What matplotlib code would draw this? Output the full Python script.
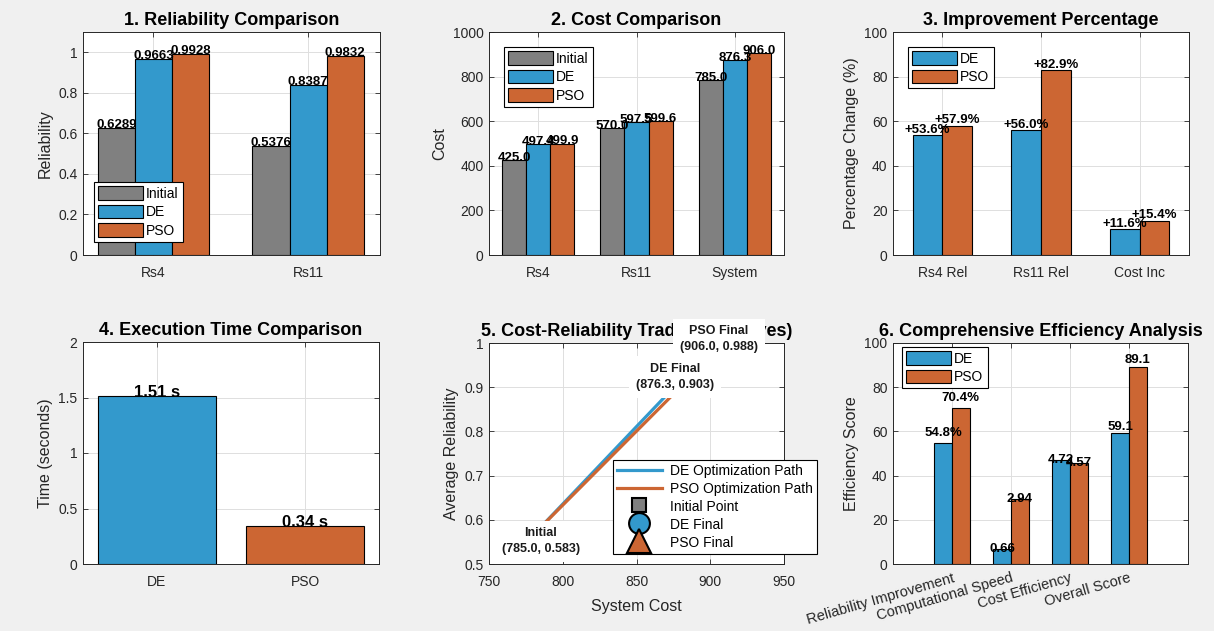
import matplotlib
matplotlib.use('Agg')
import matplotlib.pyplot as plt
import numpy as np
from matplotlib.ticker import FuncFormatter

# ---------------- data ----------------
rel_categories = ['Rs4', 'Rs11']
rel_initial = [0.6289, 0.5376]
rel_de = [0.9663, 0.8387]
rel_pso = [0.9928, 0.9832]

cost_categories = ['Rs4', 'Rs11', 'System']
cost_initial = [425.0, 570.0, 785.0]
cost_de = [497.4, 597.5, 876.3]
cost_pso = [499.9, 599.6, 906.0]

impr_categories = ['Rs4 Rel', 'Rs11 Rel', 'Cost Inc']
impr_de = [53.6, 56.0, 11.6]
impr_pso = [57.9, 82.9, 15.4]

time_categories = ['DE', 'PSO']
time_values = [1.51, 0.34]

trade_names = ['Initial', 'DE Final', 'PSO Final']
trade_cost = [785.0, 876.3, 906.0]
trade_rel = [0.583, 0.903, 0.988]

eff_categories = ['Reliability Improvement', 'Computational Speed',
                  'Cost Efficiency', 'Overall Score']
eff_de = [54.8, 6.6, 47.2, 59.1]
eff_pso = [70.4, 29.4, 45.7, 89.1]
eff_de_labels = ['54.8%', '0.66', '4.72', '59.1']
eff_pso_labels = ['70.4%', '2.94', '4.57', '89.1']

# ---------------- style ----------------
GRAY = '#808080'
BLUE = '#3399cc'
ORANGE = '#cc6633'
TXT = '#262626'
plt.rcParams['font.family'] = ['Liberation Sans', 'DejaVu Sans']

W, H = 1214, 631
fig = plt.figure(figsize=(W / 100, H / 100), dpi=100, facecolor='#f0f0f0')


def rect(x0, y0, x1, y1):
    return [x0 / W, 1 - y1 / H, (x1 - x0) / W, (y1 - y0) / H]


def style(ax, title, ylabel):
    ax.set_facecolor('white')
    ax.grid(True, color='#dedede', lw=0.7)
    ax.set_axisbelow(True)
    for s in ax.spines.values():
        s.set_color(TXT)
        s.set_linewidth(0.7)
    ax.tick_params(direction='in', top=True, right=True, length=3.5, width=0.6,
                   colors=TXT, labelsize=10, pad=4)
    ax.tick_params(axis='x', pad=8)
    ax.yaxis.set_major_formatter(FuncFormatter(lambda v, p: f'{v:g}'))
    ax.set_title(title, fontsize=13, fontweight='bold', color='black', pad=5)
    ax.set_ylabel(ylabel, fontsize=11.5, color=TXT)


def legend(ax, handles, labels, x, y, **kw):
    opts = dict(loc='upper left', bbox_to_anchor=(x / W, 1 - y / H),
                bbox_transform=fig.transFigure, borderaxespad=0, frameon=True,
                fancybox=False, framealpha=1, edgecolor='black', fontsize=10,
                handlelength=3.2, handleheight=1.1, labelspacing=0.3,
                handletextpad=0.25, borderpad=0.3)
    opts.update(kw)
    leg = ax.legend(handles, labels, **opts)
    leg.get_frame().set_linewidth(0.8)
    return leg


def label_bars(ax, xs, vals, texts, dy=2.0, fs=9.5, data_dy=None):
    for i, (x, v, t) in enumerate(zip(xs, vals, texts)):
        yy = v + (data_dy[i] if data_dy is not None else 0)
        ax.annotate(t, (x, yy), xytext=(0, dy), textcoords='offset points',
                    ha='center', va='center', fontsize=fs, fontweight='bold',
                    color='black')


bar_kw = dict(edgecolor='black', linewidth=0.8)

# ---------- 1. Reliability ----------
ax1 = fig.add_axes(rect(83, 32, 380, 255))
x = np.arange(1, len(rel_categories) + 1)
w = 0.24
b1 = ax1.bar(x - w, rel_initial, w, color=GRAY, **bar_kw)
b2 = ax1.bar(x, rel_de, w, color=BLUE, **bar_kw)
b3 = ax1.bar(x + w, rel_pso, w, color=ORANGE, **bar_kw)
for off, vals in zip([-w, 0, w], [rel_initial, rel_de, rel_pso]):
    label_bars(ax1, x + off, vals, [f'{v:.4f}' for v in vals], dy=2)
ax1.set_xlim(0.545, 2.465)
ax1.set_ylim(0, 1.1)
ax1.set_yticks(np.arange(0, 1.01, 0.2))
ax1.set_xticks(x)
ax1.set_xticklabels(rel_categories)
style(ax1, '1. Reliability Comparison', 'Reliability')
legend(ax1, [b1, b2, b3], ['Initial', 'DE', 'PSO'], 94, 182)

# ---------- 2. Cost ----------
ax2 = fig.add_axes(rect(489, 32, 784, 255))
x = np.arange(1, len(cost_categories) + 1)
w = 0.245
c1 = ax2.bar(x - w, cost_initial, w, color=GRAY, **bar_kw)
c2 = ax2.bar(x, cost_de, w, color=BLUE, **bar_kw)
c3 = ax2.bar(x + w, cost_pso, w, color=ORANGE, **bar_kw)
for off, vals in zip([-w, 0, w], [cost_initial, cost_de, cost_pso]):
    label_bars(ax2, x + off, vals, [f'{v:.1f}' for v in vals], dy=1.5)
ax2.set_xlim(0.5, 3.5)
ax2.set_ylim(0, 1000)
ax2.set_yticks(np.arange(0, 1001, 200))
ax2.set_xticks(x)
ax2.set_xticklabels(cost_categories)
style(ax2, '2. Cost Comparison', 'Cost')
legend(ax2, [c1, c2, c3], ['Initial', 'DE', 'PSO'], 504, 47)

# ---------- 3. Improvement ----------
ax3 = fig.add_axes(rect(893, 32, 1189, 255))
x = np.arange(1, len(impr_categories) + 1)
w = 0.3
d1 = ax3.bar(x - w / 2, impr_de, w, color=BLUE, **bar_kw)
d2 = ax3.bar(x + w / 2, impr_pso, w, color=ORANGE, **bar_kw)
label_bars(ax3, x - w / 2, impr_de, [f'+{v:.1f}%' for v in impr_de], dy=4)
label_bars(ax3, x + w / 2, impr_pso, [f'+{v:.1f}%' for v in impr_pso], dy=4)
ax3.set_xlim(0.5, 3.5)
ax3.set_ylim(0, 100)
ax3.set_yticks(np.arange(0, 101, 20))
ax3.set_xticks(x)
ax3.set_xticklabels(impr_categories)
style(ax3, '3. Improvement Percentage', 'Percentage Change (%)')
legend(ax3, [d1, d2], ['DE', 'PSO'], 908, 47)

# ---------- 4. Execution time ----------
ax4 = fig.add_axes(rect(83, 342, 379, 564))
x = np.arange(1, len(time_categories) + 1)
ax4.bar(x, time_values, 0.8, color=[BLUE, ORANGE], **bar_kw)
label_bars(ax4, x, time_values, [f'{v:.2f} s' for v in time_values], dy=3.0, fs=12)
ax4.set_xlim(0.5, 2.5)
ax4.set_ylim(0, 2)
ax4.set_yticks(np.arange(0, 2.01, 0.5))
ax4.set_xticks(x)
ax4.set_xticklabels(time_categories)
style(ax4, '4. Execution Time Comparison', 'Time (seconds)')

# ---------- 5. Trade-off ----------
ax5 = fig.add_axes(rect(489, 343, 784, 564))
l1, = ax5.plot([trade_cost[0], trade_cost[1]], [trade_rel[0], trade_rel[1]],
               color=BLUE, lw=2.3, zorder=2)
l2, = ax5.plot([trade_cost[0], trade_cost[2]], [trade_rel[0], trade_rel[2]],
               color=ORANGE, lw=2.3, zorder=2)
m1, = ax5.plot([trade_cost[0]], [trade_rel[0]], 's', ms=6, mfc=GRAY, mec='black',
               mew=1.5, zorder=2.5)
m2, = ax5.plot([trade_cost[1]], [trade_rel[1]], 'o', ms=7, mfc=BLUE, mec='black',
               mew=1.5, zorder=2.5)
m3, = ax5.plot([trade_cost[2]], [trade_rel[2]], '^', ms=7, mfc=ORANGE, mec='black',
               mew=1.5, zorder=2.5)
label_offsets = [-0.032, 0.02, 0.02]
for name, c, r, off in zip(trade_names, trade_cost, trade_rel, label_offsets):
    ax5.text(c, r + off, f'{name}\n({c:.1f}, {r:.3f})', ha='center', va='center',
             fontsize=9, fontweight='bold', color='#1a1a1a', linespacing=1.45,
             bbox=dict(boxstyle='square,pad=0.54', fc='white', ec='none'), zorder=4)
ax5.set_xlim(750, 950)
ax5.set_ylim(0.5, 1.0)
ax5.set_xticks(np.arange(750, 951, 50))
ax5.set_yticks(np.arange(0.5, 1.001, 0.1))
style(ax5, '5. Cost-Reliability Trade-off (Curves)', 'Average Reliability')
ax5.title.set_zorder(3)
ax5.set_xlabel('System Cost', fontsize=11.5, color=TXT, labelpad=7)
leg5 = legend(ax5, [l1, l2, m1, m2, m3],
              ['DE Optimization Path', 'PSO Optimization Path', 'Initial Point',
               'DE Final', 'PSO Final'], 613, 460,
              handleheight=1.0, labelspacing=0.28, handletextpad=0.6)
for h, ms in zip(leg5.legend_handles[2:], [9.5, 15, 17]):
    h.set_markersize(ms)

# ---------- 6. Efficiency ----------
ax6 = fig.add_axes(rect(893, 343, 1188, 564))
x = np.arange(1, len(eff_categories) + 1)
w = 0.3
e1 = ax6.bar(x - w / 2, eff_de, w, color=BLUE, **bar_kw)
e2 = ax6.bar(x + w / 2, eff_pso, w, color=ORANGE, **bar_kw)
eff_label_dy = [4.5, 0, 0, 3]
label_bars(ax6, x - w / 2, eff_de, eff_de_labels, dy=0, data_dy=eff_label_dy)
label_bars(ax6, x + w / 2, eff_pso, eff_pso_labels, dy=0, data_dy=eff_label_dy)
ax6.set_xlim(0, 5)
ax6.set_ylim(0, 100)
ax6.set_yticks(np.arange(0, 101, 20))
ax6.set_xticks(x)
ax6.set_xticklabels(eff_categories, rotation=16, ha='right', rotation_mode='anchor')
style(ax6, '6. Comprehensive Efficiency Analysis', 'Efficiency Score')
ax6.tick_params(axis='x', labelsize=10.5, pad=5)
legend(ax6, [e1, e2], ['DE', 'PSO'], 902, 347)

fig.savefig('out.png', dpi=100, facecolor=fig.get_facecolor())
